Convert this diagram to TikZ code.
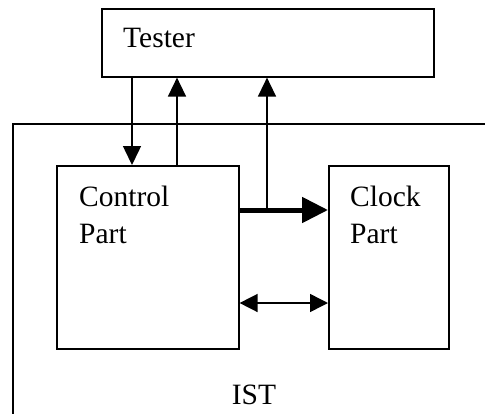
\documentclass[tikz,border=0pt]{standalone}
\usepackage{fontspec}
\setmainfont{Liberation Serif}
\usetikzlibrary{arrows.meta}
\begin{document}
\begin{tikzpicture}[x=1pt,y=-1pt,
  box/.style={draw,line width=1.6pt,rectangle,inner sep=0pt,anchor=north west},
  lbl/.style={inner sep=0pt,anchor=base west,font=\fontsize{29.5}{36}\selectfont},
  sig/.style={line width=1.5pt,-{Triangle[length=19pt,width=18pt]}},
  bus/.style={line width=5pt,-{Triangle[length=26pt,width=25pt]}},
  bidir/.style={line width=1.5pt,{Triangle[length=18pt,width=18pt]}-{Triangle[length=18pt,width=18pt]}}]
\useasboundingbox (0,0) rectangle (485,413);
% outer IST frame, running past the page on the right and bottom
\node[box,minimum width=520pt,minimum height=330pt] (ist) at (12,123) {};
\node[box,minimum width=332pt,minimum height=68pt] (tester) at (101,8) {};
\node[box,minimum width=182pt,minimum height=183pt] (ctrl) at (56,165) {};
\node[box,minimum width=120pt,minimum height=183pt] (clk) at (328,165) {};
% labels
\node[lbl] (tt) at (123,47) {Tester};
\node[lbl] (ct1) at (79,206) {Control};
\node[lbl] (ct2) at (79,243) {Part};
\node[lbl] (ck1) at (350,206) {Clock};
\node[lbl] (ck2) at (350,243) {Part};
\node[inner sep=0pt,anchor=base,font=\fontsize{29.5}{36}\selectfont] (istl) at (254,404) {IST};
% column positions of the vertical signals
\coordinate (xa) at (132,0);
\coordinate (xb) at (177,0);
\coordinate (xc) at (267,0);
\coordinate (ybus) at (0,210);
\coordinate (ybi) at (0,303);
\coordinate (tap) at (xc |- ybus);
% connectors
\draw[sig] (tester.south -| xa) -- (ctrl.north -| xa);
\draw[sig] (ctrl.north -| xb) -- (tester.south -| xb);
\draw[bus] (ctrl.east |- ybus) -- (clk.west |- ybus);
\draw[sig] (tap) -- (tester.south -| xc);
\draw[bidir] (ctrl.east |- ybi) -- (clk.west |- ybi);
\end{tikzpicture}
\end{document}
